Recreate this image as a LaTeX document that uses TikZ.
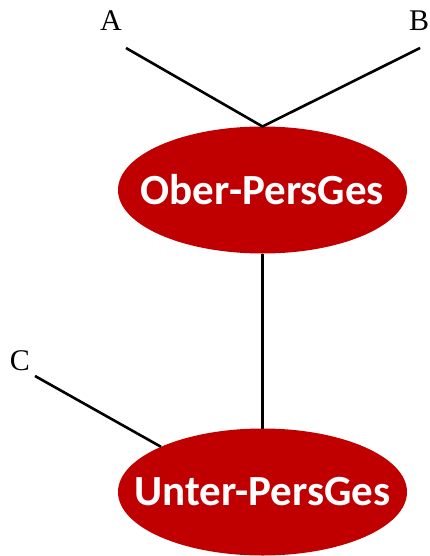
\documentclass[tikz,border=0pt]{standalone}
\usepackage{fontspec}
\setmainfont{Liberation Serif}
\newfontfamily\carlito{Carlito}
\usetikzlibrary{shapes.geometric}
\definecolor{darkred}{HTML}{C00000}
\tikzset{
  blob/.style={ellipse, fill=darkred, draw=none, minimum width=289pt, minimum height=127pt, inner xsep=-30pt, inner ysep=-10pt, outer sep=0pt, text=white, font=\carlito\bfseries\fontsize{43}{50}\selectfont},
  lbl/.style={font=\fontsize{30}{35}\selectfont, inner sep=0pt},
  conn/.style={line width=2.6pt, black}
}
\begin{document}
\begin{tikzpicture}[x=1pt,y=-1pt]
\useasboundingbox (0,0) rectangle (430,556);
\node[blob] (o) at (262.5,190) {Ober-PersGes};
\node[blob] (u) at (262.5,492) {Unter-PersGes};
\node[lbl] (a) at (111,21) {A};
\node[lbl] (b) at (419,21) {B};
\node[lbl] (c) at (20,361) {C};
\coordinate (a1) at (126,48);
\coordinate (b1) at (420,48);
\coordinate (c1) at (35,376);
\draw[conn] (a1) -- (o.north) -- (b1);
\draw[conn] (o.south) -- (u.north);
\draw[conn] (c1) -- (u.156);
\end{tikzpicture}
\end{document}
